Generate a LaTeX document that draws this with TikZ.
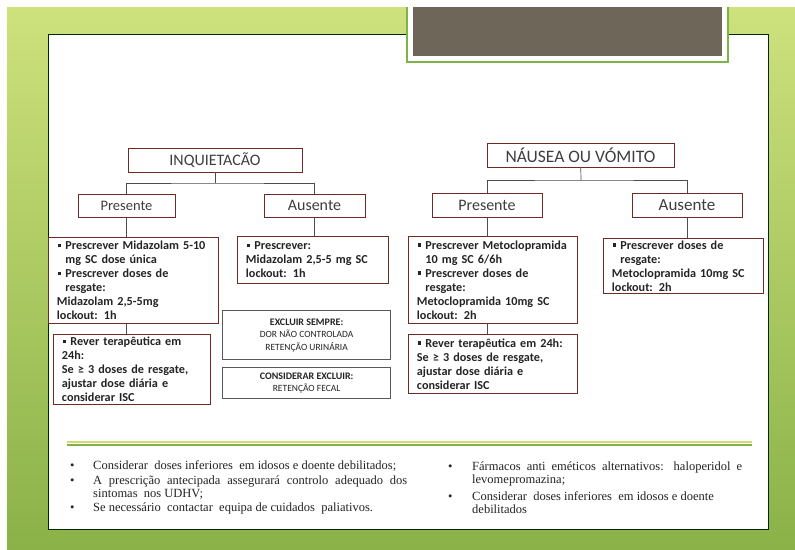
\documentclass[tikz,border=0pt]{standalone}
\usepackage{fontspec}
\setmainfont{Liberation Serif}
\newfontfamily\calibri{Carlito}
\usetikzlibrary{positioning}
\definecolor{slidelime}{RGB}{206,225,124}
\definecolor{slideolive}{RGB}{138,178,72}
\definecolor{titletaupe}{RGB}{110,102,88}
\definecolor{framegreen}{RGB}{125,180,72}
\definecolor{boxred}{RGB}{112,42,36}
\definecolor{inkgray}{RGB}{36,36,36}
\definecolor{headgray}{RGB}{62,62,62}
\definecolor{rulelime}{RGB}{204,220,110}
\definecolor{rulegreen}{RGB}{132,176,72}

\newcommand{\sqb}{\hspace*{1pt}\rule[2.5pt]{3.5pt}{3.5pt}\hspace*{4pt}}
\newcommand{\hang}{\hspace*{8.5pt}}

\begin{document}
\begin{tikzpicture}[
    x=1pt, y=-1pt,
    head/.style={rectangle, draw=boxred, fill=white, line width=0.9pt, minimum height=24pt, inner sep=0pt, font=\calibri\fontsize{16}{18}\selectfont, text=headgray},
    dose/.style={rectangle, draw=boxred, fill=white, line width=0.9pt, anchor=north west, inner xsep=8.5pt, inner ysep=0pt, align=left, font=\calibri\bfseries\fontsize{12.2}{14}\selectfont, text=inkgray},
    warn/.style={rectangle, draw=black!65, fill=white, line width=1.2pt, anchor=north west, inner sep=0pt, align=center, font=\calibri\fontsize{9.5}{12.5}\selectfont, text=inkgray},
    link/.style={draw=black!70, line width=0.7pt},
    note/.style={anchor=base west, inner sep=0pt, align=justify, font=\fontsize{12.5}{13}\selectfont, text=inkgray},
    dot/.style={anchor=base west, inner sep=0pt, font=\fontsize{12.5}{13}\selectfont, text=inkgray}
]
    \useasboundingbox (0,0) rectangle (795,549);

    % slide background
    \fill[white] (0,0) rectangle (795,549);
    \shade[top color=slidelime, bottom color=slideolive] (7,7) rectangle (795,549);
    \draw[fill=white, draw=black!60!green!40!black, line width=1pt] (48,34) rectangle (768,529);
    \draw[fill=white, draw=framegreen, line width=1.2pt] (407,7) -- (407,62) -- (728,62) -- (728,7);
    \fill[titletaupe] (413,7) rectangle (722,56);

    % Inquietacao
    \node[head, minimum width=174pt] (inq) at (215,160) {INQUIETACÃO};
    \node[head, minimum width=97pt, minimum height=23pt, font=\calibri\fontsize{14.5}{16}\selectfont] (presInq) at (126.5,205.5) {Presente};
    \node[head, minimum width=101pt, minimum height=23pt] (ausInq) at (314.5,205.5) {Ausente};

    \node[dose, text width=153pt, minimum height=86pt] (doseInq) at (48,237) {\sqb Prescrever Midazolam 5-10\\
        \hang mg SC dose única\\
        \sqb Prescrever doses de\\
        \hang resgate:\\
        Midazolam 2,5-5mg\\
        lockout: 1h};
    \node[dose, text width=140pt, minimum height=70pt] (reviewInq) at (53,334) {\sqb Rever terapêutica em\\
        24h:\\
        Se ≥ 3 doses de resgate,\\
        ajustar dose diária e\\
        considerar ISC};
    \node[dose, text width=134pt, minimum height=47pt] (ausInqDose) at (237,236) {\sqb Prescrever:\\
        Midazolam 2,5-5 mg SC\\
        lockout: 1h};

    \node[warn, minimum width=168pt, minimum height=49pt] (excl) at (222,310) {{\bfseries\fontsize{10}{12.5}\selectfont EXCLUIR SEMPRE:}\\ DOR NÃO CONTROLADA\\ RETENÇÃO URINÁRIA};
    \node[warn, minimum width=168pt, minimum height=31pt] (cons) at (222,367) {{\bfseries\fontsize{10}{12.5}\selectfont CONSIDERAR EXCLUIR:}\\ RETENÇÃO FECAL};

    \coordinate (inqFork) at (215,183);
    \draw[link] (inq) -- (inqFork);
    \draw[link] (presInq.north) |- (inqFork) -| (ausInq.north);
    \draw[link] (presInq.south) -- (presInq.south |- doseInq.north);
    \draw[link] (presInq.south |- doseInq.south) -- (presInq.south |- reviewInq.north);
    \draw[link] (ausInq.south) -- (ausInq.south |- ausInqDose.north);

    % Nausea ou vomito
    \node[head, minimum width=187pt, font=\calibri\fontsize{17.5}{19}\selectfont] (nau) at (580.5,155) {NÁUSEA OU VÓMITO};
    \node[head, minimum width=110pt] (presNau) at (487,205) {Presente};
    \node[head, minimum width=110pt, font=\calibri\fontsize{17}{19}\selectfont] (ausNau) at (687,205) {Ausente};

    \node[dose, text width=152pt, minimum height=87pt] (doseNau) at (408,236) {\sqb Prescrever Metoclopramida\\
        \hang 10 mg SC 6/6h\\
        \sqb Prescrever doses de\\
        \hang resgate:\\
        Metoclopramida 10mg SC\\
        lockout: 2h};
    \node[dose, text width=152pt, minimum height=59pt] (reviewNau) at (408,334) {\sqb Rever terapêutica em 24h:\\
        Se ≥ 3 doses de resgate,\\
        ajustar dose diária e\\
        considerar ISC};
    \node[dose, text width=143pt, minimum height=55pt] (ausNauDose) at (603,238) {\sqb Prescrever doses de\\
        \hang resgate:\\
        Metoclopramida 10mg SC\\
        lockout: 2h};

    \coordinate (nauFork) at (581,180);
    \draw[link] (nau) -- (nauFork);
    \draw[link] (presNau.north) |- (nauFork) -| (ausNau.north);
    \draw[link] (presNau.south) -- (presNau.south |- doseNau.north);
    \draw[link] (presNau.south |- doseNau.south) -- (presNau.south |- reviewNau.north);
    \draw[link] (ausNau.south) -- (ausNau.south |- ausNauDose.north);

    % notes
    \draw[rulelime, line width=1.5pt] (67,442) -- (752,442);
    \draw[rulegreen, line width=1.5pt] (67,445) -- (752,445);

    \node[note, text width=314pt] (noteA) at (93,469) {Considerar\ \ doses inferiores\ \ em idosos e doente debilitados;};
    \node[note, text width=314pt] (noteB) at (93,484) {A prescrição antecipada assegurará controlo adequado dos\linebreak sintomas\ \ nos UDHV;};
    \node[note, text width=314pt] (noteC) at (93,511) {Se necessário\ \ contactar\ \ equipa de cuidados\ \ paliativos.};
    \node[note, text width=270pt] (noteD) at (472,470) {Fármacos anti eméticos alternativos: haloperidol e\linebreak levomepromazina;};
    \node[note, text width=270pt] (noteE) at (472,500) {Considerar\ \ doses inferiores\ \ em idosos e doente\newline debilitados};

    \foreach \n in {A,B,C} \node[dot] at (70,0 |- note\n.base) {\textbullet};
    \foreach \n in {D,E} \node[dot] at (448,0 |- note\n.base) {\textbullet};
\end{tikzpicture}
\end{document}
